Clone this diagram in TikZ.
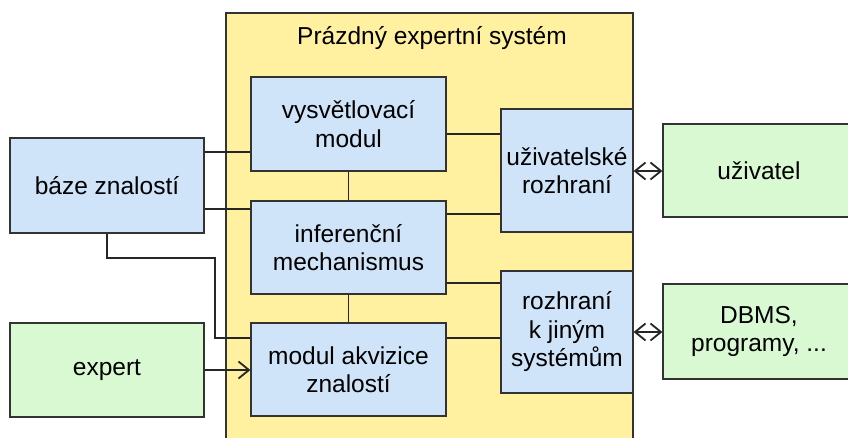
\documentclass[tikz,border=0pt]{standalone}
\usepackage{fontspec}
\setmainfont{Liberation Sans}
\usetikzlibrary{arrows.meta}
\definecolor{ylw}{HTML}{FFF1A0}
\definecolor{blu}{HTML}{CFE4F8}
\definecolor{grn}{HTML}{D9F9D3}
\definecolor{edge}{HTML}{333333}
\tikzset{
  box/.style={draw=edge, line width=1.2pt, rectangle, align=center, inner sep=0pt,
    font=\fontsize{24.5}{28.5}\selectfont},
  bluebox/.style={box, fill=blu},
  greenbox/.style={box, fill=grn},
  conn/.style={draw=black!85, line width=1.2pt},
  tip/.tip={Straight Barb[length=10.5pt,width=17pt,line width=1.8pt]},
  arr/.style={conn, -tip},
  darr/.style={conn, tip-tip}
}
\begin{document}
\begin{tikzpicture}[x=1pt,y=-1pt]
\useasboundingbox (0,0) rectangle (848,437);
\clip (0,0) rectangle (848,437);
% outer yellow system box
\node[box, fill=ylw, minimum width=407, minimum height=432] (sys) at (429.5,229) {};
\node[font=\fontsize{24.5}{28.5}\selectfont, anchor=center] (title) at (432,38) {Prázdný expertní systém};
% inner modules
\node[bluebox, minimum width=195, minimum height=94] (vys) at (348.5,124) {vysvětlovací\\modul};
\node[bluebox, minimum width=195, minimum height=93] (inf) at (348.5,247.5) {inferenční\\mechanismus};
\node[bluebox, minimum width=195, minimum height=93] (mak) at (348.5,369.5) {modul akvizice\\znalostí};
\node[bluebox, minimum width=132, minimum height=123] (ur) at (567,170.5) {uživatelské\\rozhraní};
\node[bluebox, minimum width=132, minimum height=122] (rj) at (567,332) {rozhraní\\k jiným\\systémům};
% outside
\node[bluebox, minimum width=194, minimum height=95] (bz) at (107,185.5) {báze znalostí};
\node[greenbox, minimum width=194, minimum height=94] (ex) at (107,370) {expert};
\node[greenbox, minimum width=186, minimum height=93] (uz) at (756,170.5) {};
\node[font=\fontsize{24.5}{28.5}\selectfont] (uzt) at (759,170.5) {uživatel};
\node[greenbox, minimum width=186, minimum height=95] (db) at (756,331.5) {};
\node[font=\fontsize{24.5}{28.5}\selectfont, align=center] (dbt) at (759,331.5) {DBMS,\\programy, ...};
% connectors
\draw[conn] (bz.east |- 0,152) -- (vys.west |- 0,152);
\draw[conn] (bz.east |- 0,209) -- (inf.west |- 0,209);
\draw[conn] (bz.south) |- (215,258) |- (mak.west |- 0,338);
\draw[arr] (ex.east) -- (mak.west |- ex.east);
\draw[conn] (vys.south) -- (inf.north);
\draw[conn] (inf.south) -- (mak.north);
\draw[conn] (vys.east |- 0,134) -- (ur.west |- 0,134);
\draw[conn] (inf.east |- 0,214) -- (ur.west |- 0,214);
\draw[conn] (inf.east |- 0,283) -- (rj.west |- 0,283);
\draw[conn] (mak.east |- 0,338) -- (rj.west |- 0,338);
\draw[darr] (ur.east |- 0,171) -- (uz.west |- 0,171);
\draw[darr] (rj.east |- 0,332) -- (db.west |- 0,332);
\end{tikzpicture}
\end{document}
